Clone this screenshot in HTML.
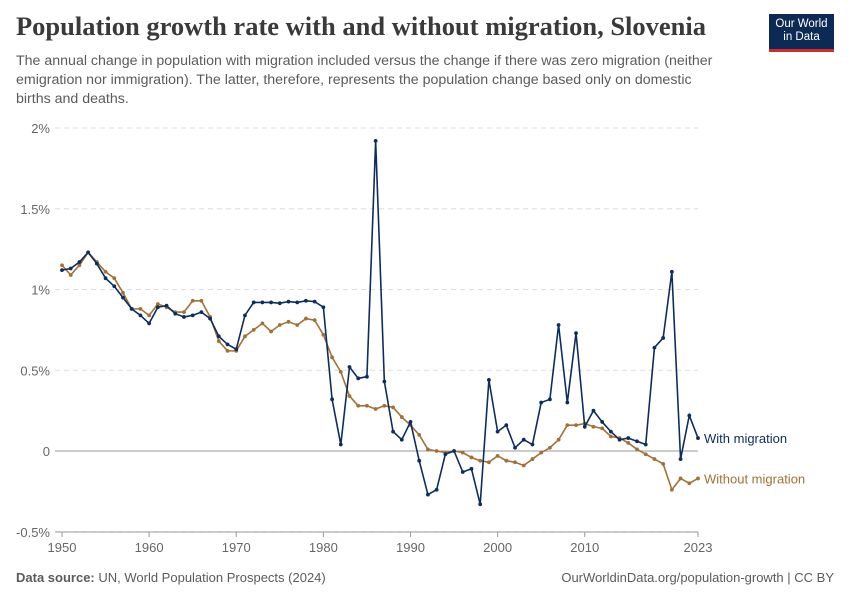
<!DOCTYPE html>
<html><head><meta charset="utf-8"><style>
body{margin:0;background:#fff;font-family:"Liberation Sans",sans-serif;}
#wrap{position:relative;width:850px;height:600px;overflow:hidden;}
h1{position:absolute;left:16px;top:11px;margin:0;font-family:"Liberation Serif",serif;font-size:26.5px;font-weight:bold;color:#3a3a3a;}
.sub{position:absolute;left:16px;top:52px;white-space:nowrap;font-size:14.2px;line-height:19px;color:#5b5b5b;margin:0;}
.logo{position:absolute;left:769px;top:14px;width:65px;height:38px;background:#0d2a55;color:#fff;font-size:11.5px;line-height:13px;text-align:center;padding-top:4px;box-sizing:border-box;border-bottom:3px solid #cc2c2c;}
.foot{position:absolute;top:570px;font-size:13px;color:#5b5b5b;}
</style></head><body><div id="wrap">
<h1>Population growth rate with and without migration, Slovenia</h1>
<p class="sub">The annual change in population with migration included versus the change if there was zero migration (neither<br>emigration nor immigration). The latter, therefore, represents the population change based only on domestic<br>births and deaths.</p>
<div class="logo">Our World<br>in Data</div>
<div class="foot" style="left:16px"><b>Data source:</b> UN, World Population Prospects (2024)</div>
<div class="foot" style="right:16px">OurWorldinData.org/population-growth | CC BY</div>
<svg id="c" width="850" height="600" style="position:absolute;left:0;top:0"></svg>
</div>
<script>
const years=[];for(let y=1950;y<=2023;y++)years.push(y);
const withMig=[1.12,1.13,1.17,1.23,1.16,1.07,1.02,0.95,0.88,0.84,0.79,0.89,0.90,0.85,0.83,0.84,0.86,0.82,0.71,0.66,0.63,0.84,0.92,0.92,0.92,0.915,0.925,0.92,0.93,0.925,0.89,0.32,0.04,0.52,0.45,0.46,1.92,0.43,0.12,0.07,0.18,-0.06,-0.27,-0.24,-0.02,0.00,-0.13,-0.11,-0.33,0.44,0.12,0.16,0.02,0.07,0.04,0.30,0.32,0.78,0.30,0.73,0.15,0.25,0.18,0.12,0.07,0.08,0.06,0.04,0.64,0.70,1.11,-0.05,0.22,0.08];
const withoutMig=[1.15,1.09,1.15,1.23,1.17,1.11,1.07,0.98,0.88,0.88,0.84,0.91,0.89,0.86,0.86,0.93,0.93,0.83,0.68,0.62,0.62,0.71,0.75,0.79,0.74,0.78,0.80,0.78,0.82,0.81,0.72,0.58,0.49,0.34,0.28,0.28,0.26,0.28,0.27,0.21,0.16,0.10,0.01,0.00,-0.01,0.00,-0.01,-0.04,-0.06,-0.07,-0.03,-0.06,-0.07,-0.09,-0.05,-0.01,0.02,0.07,0.16,0.16,0.17,0.15,0.14,0.09,0.08,0.05,0.01,-0.02,-0.05,-0.08,-0.24,-0.17,-0.20,-0.17];
const yTicks=[-0.5,0,0.5,1,1.5,2];
const yTickLabels=["-0.5%","0","0.5%","1%","1.5%","2%"];
const xTicks=[1950,1960,1970,1980,1990,2000,2010,2023];
const X=y=>62+(y-1950)*(698-62)/73;
const Y=v=>451-v*161.5;
const svg=document.getElementById('c');const NS='http://www.w3.org/2000/svg';
function mk(t,a){const e=document.createElementNS(NS,t);for(const k in a)e.setAttribute(k,a[k]);svg.appendChild(e);return e;}
yTicks.forEach((v,i)=>{
 const l=mk('line',{x1:55,x2:698,y1:Y(v),y2:Y(v),stroke:v===0?'#9a9a9a':'#dddddd','stroke-dasharray':v===0?'':'5,4'});
 
 
 const t=mk('text',{x:50,y:Y(v)+5,'text-anchor':'end','font-size':13,fill:'#666','font-family':'Liberation Sans'});
 t.textContent=yTickLabels[i];
 
 
});
mk('line',{x1:55,x2:698,y1:532,y2:532,stroke:'#999'});
xTicks.forEach(y=>{
 mk('line',{x1:X(y),x2:X(y),y1:532,y2:537,stroke:'#999'});
 const t=mk('text',{x:X(y),y:552,'text-anchor':'middle','font-size':13,fill:'#666','font-family':'Liberation Sans'});
 t.textContent=y;
 
 
});
function series(vals,col,name,label){
 const p=mk('polyline',{points:vals.map((v,i)=>X(years[i])+','+Y(v)).join(' '),fill:'none',stroke:col,'stroke-width':1.6});
 
 
 vals.forEach((v,i)=>{const c=mk('circle',{cx:X(years[i]),cy:Y(v),r:1.9,fill:col});
 
 });
 const last=vals[vals.length-1];
 const t=mk('text',{x:704,y:Y(last)+5,'font-size':13,fill:col,'font-family':'Liberation Sans'});
 t.textContent=label;
 
 
}
series(withoutMig,'#a2703a','without-migration','Without migration');
series(withMig,'#0f2d5c','with-migration','With migration');
</script></body></html>
